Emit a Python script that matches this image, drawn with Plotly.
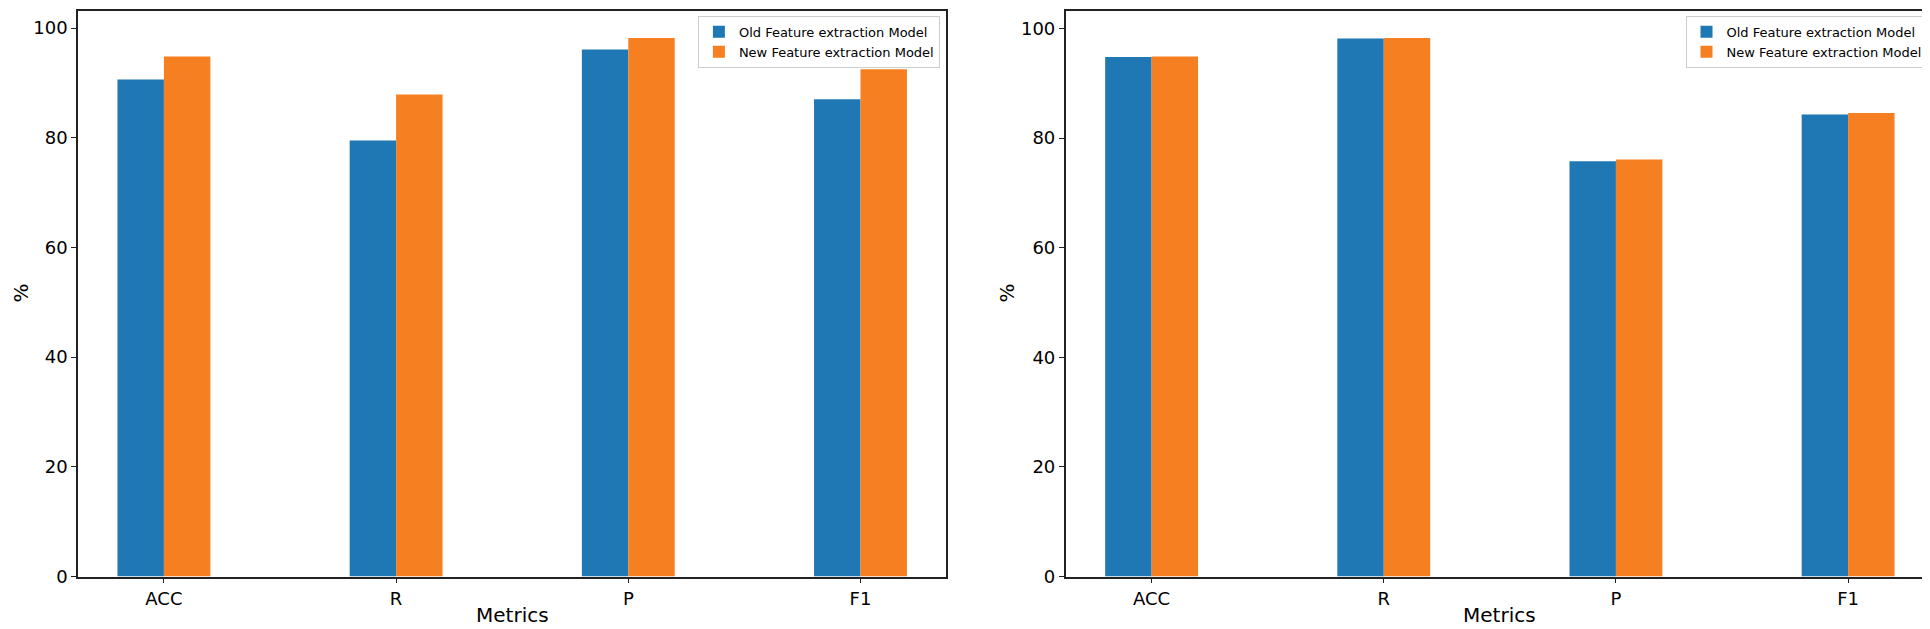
import plotly.graph_objects as go

categories = ["ACC", "R", "P", "F1"]
left_old = [90.6, 79.5, 96.1, 87.0]
left_new = [94.8, 87.9, 98.2, 92.5]
right_old = [94.8, 98.2, 75.8, 84.3]
right_new = [94.9, 98.3, 76.1, 84.6]
series_names = ["Old Feature extraction Model", "New Feature extraction Model"]
y_ticks = [0, 20, 40, 60, 80, 100]

BLUE = "#1f77b4"
ORANGE = "#f67f21"
W, H = 1930, 629
FONT = "DejaVu Sans"

fig = go.Figure()
idx = list(range(len(categories)))

for (old, new, xa, ya, lg) in [(left_old, left_new, "x", "y", "legend"),
                               (right_old, right_new, "x2", "y2", "legend2")]:
    fig.add_trace(go.Bar(x=[i - 0.1 for i in idx], y=old, width=0.2, name=series_names[0],
                         marker=dict(color=BLUE, line=dict(width=0)),
                         xaxis=xa, yaxis=ya, legend=lg))
    fig.add_trace(go.Bar(x=[i + 0.1 for i in idx], y=new, width=0.2, name=series_names[1],
                         marker=dict(color=ORANGE, line=dict(width=0)),
                         xaxis=xa, yaxis=ya, legend=lg))

def px(x):
    return x / W

def py(y):
    return 1 - y / H

y_top = py(3)
y_bot = py(577.7)
ymaxL = max(left_old + left_new) * 1.05
ymaxR = max(right_old + right_new) * 1.05

axis_common = dict(showline=True, linecolor="#222222", linewidth=1.6, mirror=True,
                   ticks="outside", ticklen=5, tickwidth=1.3, tickcolor="#222222",
                   showgrid=False, zeroline=False,
                   tickfont=dict(family=FONT, size=18, color="black"))

L1, R1 = 70, 938.4
L2, R2 = 1057.7, 1926

def legend_box(right_px):
    return dict(x=px(right_px), y=py(8), xanchor="right", yanchor="top",
                bgcolor="rgba(255,255,255,0.8)", bordercolor="#cccccc", borderwidth=1,
                font=dict(family=FONT, size=13, color="black"), tracegroupgap=0,
                itemwidth=30)

def label(text, x, y, angle=0):
    return dict(text=text, x=px(x), y=py(y), xref="paper", yref="paper", showarrow=False,
                xanchor="center", yanchor="middle", textangle=angle,
                font=dict(family=FONT, size=20, color="black"))

fig.update_layout(
    width=W, height=H,
    margin=dict(l=0, r=0, t=0, b=0),
    plot_bgcolor="white", paper_bgcolor="white",
    barmode="overlay",
    font=dict(family=FONT, color="black"),
    xaxis=dict(domain=[px(L1), px(R1)], range=[-0.37, 3.37], tickvals=idx, ticktext=categories,
               anchor="y", **axis_common),
    yaxis=dict(domain=[y_bot, y_top], range=[0, ymaxL], tickvals=y_ticks, anchor="x", **axis_common),
    xaxis2=dict(domain=[px(L2), px(R2)], range=[-0.37, 3.37], tickvals=idx, ticktext=categories,
                anchor="y2", **axis_common),
    yaxis2=dict(domain=[y_bot, y_top], range=[0, ymaxR], tickvals=y_ticks, anchor="x2", **axis_common),
    legend=legend_box(R1 - 6.5),
    legend2=legend_box(R2 - 6.5),
    annotations=[
        label("Metrics", (L1 + R1) / 2, 617),
        label("Metrics", (L2 + R2) / 2, 617),
        label("%", 13, 290, -90),
        label("%", 999, 290, -90),
    ],
)

fig.write_html("out.html")
